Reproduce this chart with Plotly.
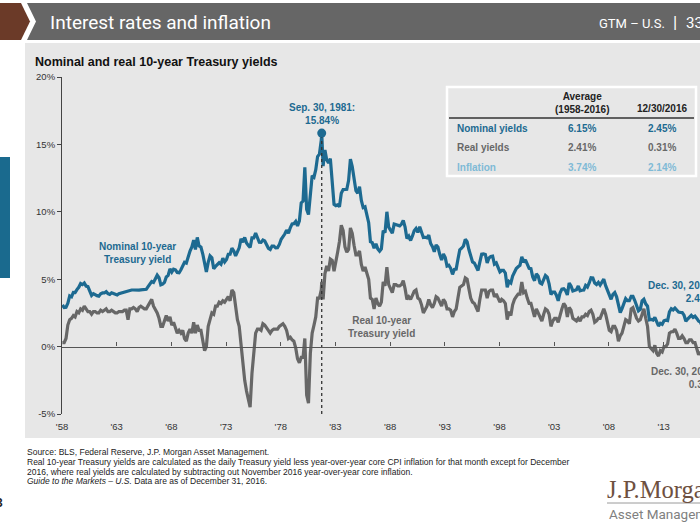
import plotly.graph_objects as go

# ---------------- data ----------------
years = list(range(1958, 2017))
months = [1, 3, 5, 7, 9, 11]

nominal_yield = [
    3.09, 2.90, 2.92, 3.21, 3.76, 3.69,   # 1958
    4.02, 4.01, 4.23, 4.40, 4.68, 4.60,   # 1959
    4.72, 4.49, 4.45, 4.13, 3.80, 3.93,   # 1960
    3.84, 3.78, 3.74, 3.92, 3.98, 3.98,   # 1961
    4.08, 3.93, 3.87, 3.99, 3.94, 3.87,   # 1962
    3.83, 3.93, 3.97, 4.02, 4.08, 4.12,   # 1963
    4.17, 4.22, 4.20, 4.20, 4.19, 4.15,   # 1964
    4.19, 4.21, 4.21, 4.20, 4.25, 4.45,   # 1965
    4.61, 4.83, 4.76, 5.02, 5.30, 5.11,   # 1966
    4.58, 4.63, 4.76, 5.16, 5.28, 5.77,   # 1967
    5.53, 5.74, 5.70, 5.50, 5.48, 5.70,   # 1968
    6.04, 6.26, 6.20, 6.72, 7.09, 7.40,   # 1969
    7.90, 7.21, 8.10, 7.46, 7.39, 6.87,   # 1970
    6.24, 5.53, 6.25, 6.73, 6.59, 5.78,   # 1971
    5.95, 6.12, 6.22, 6.11, 6.55, 6.28,   # 1972
    6.46, 6.85, 6.85, 7.30, 7.09, 6.73,   # 1973
    6.99, 7.33, 7.99, 7.75, 8.10, 7.68,   # 1974
    7.50, 7.35, 8.06, 8.06, 8.43, 8.05,   # 1975
    7.74, 7.73, 7.90, 7.83, 7.59, 7.29,   # 1976
    7.21, 7.46, 7.46, 7.33, 7.34, 7.58,   # 1977
    7.96, 8.11, 8.35, 8.64, 8.42, 8.81,   # 1978
    9.10, 9.12, 9.29, 8.95, 9.33, 10.65,  # 1979
    10.80, 13.30, 10.18, 9.80, 11.51, 12.68,  # 1980
    12.57, 13.12, 14.10, 14.28, 15.32, 13.39,  # 1981
    14.59, 13.86, 13.62, 13.95, 12.34, 10.55,  # 1982
    10.46, 10.51, 10.38, 11.38, 11.65, 11.69,  # 1983
    11.67, 12.32, 13.90, 13.36, 12.52, 11.57,  # 1984
    11.38, 11.86, 10.85, 10.31, 10.37, 9.78,   # 1985
    9.19, 7.78, 7.71, 7.30, 7.62, 7.25,   # 1986
    7.08, 7.25, 8.61, 8.45, 10.00, 8.86,  # 1987
    8.67, 8.42, 9.09, 9.06, 8.98, 8.96,   # 1988
    9.09, 9.36, 8.86, 8.02, 8.19, 7.87,   # 1989
    8.21, 8.59, 8.76, 8.47, 8.89, 8.39,   # 1990
    8.09, 8.11, 8.07, 8.27, 7.65, 7.42,   # 1991
    7.03, 7.54, 7.39, 6.84, 6.42, 6.87,   # 1992
    6.60, 5.98, 6.04, 5.81, 5.36, 5.72,   # 1993
    5.75, 6.48, 7.18, 7.30, 7.46, 7.96,   # 1994
    7.78, 7.20, 6.63, 6.28, 6.20, 5.93,   # 1995
    5.65, 6.27, 6.85, 6.87, 6.83, 6.20,   # 1996
    6.58, 6.69, 6.71, 6.12, 6.21, 5.88,   # 1997
    5.54, 5.65, 5.65, 5.46, 4.40, 4.83,   # 1998
    4.72, 5.23, 5.54, 5.79, 5.92, 6.03,   # 1999
    6.66, 6.26, 6.44, 6.05, 5.80, 5.78,   # 2000
    5.16, 4.89, 5.39, 5.24, 4.73, 4.65,   # 2001
    5.04, 5.28, 5.16, 4.65, 3.87, 4.05,   # 2002
    4.05, 3.81, 3.40, 3.98, 4.27, 4.30,   # 2003
    4.15, 3.83, 4.72, 4.50, 4.13, 4.19,   # 2004
    4.22, 4.50, 4.14, 4.18, 4.20, 4.54,   # 2005
    4.42, 4.72, 5.11, 5.09, 4.72, 4.60,   # 2006
    4.76, 4.56, 4.75, 5.00, 4.52, 4.15,   # 2007
    3.74, 3.51, 3.88, 4.01, 3.69, 3.00,   # 2008
    2.52, 2.82, 3.29, 3.56, 3.40, 3.40,   # 2009
    3.73, 3.73, 3.42, 3.01, 2.65, 2.76,   # 2010
    3.39, 3.51, 3.17, 3.00, 1.98, 2.01,   # 2011
    1.97, 2.17, 1.80, 1.53, 1.72, 1.65,   # 2012
    1.91, 1.96, 1.93, 2.58, 2.81, 2.72,   # 2013
    2.86, 2.72, 2.56, 2.54, 2.53, 2.33,   # 2014
    1.88, 2.04, 2.20, 2.32, 2.17, 2.26,   # 2015
    2.09, 1.89, 1.81, 1.50, 1.63, 2.14,   # 2016
]

real_yield = [
    0.3, 0.3, 0.6, 1.6, 2.0, 2.1,   # 1958
    2.3, 2.2, 2.6, 2.5, 2.8, 2.7,   # 1959
    3.0, 2.8, 2.6, 2.6, 2.4, 2.6,   # 1960
    2.6, 2.5, 2.5, 2.7, 2.6, 2.7,   # 1961
    2.8, 2.6, 2.6, 2.7, 2.6, 2.5,   # 1962
    2.5, 2.6, 2.6, 2.6, 2.7, 2.7,   # 1963
    2.0, 2.8, 2.8, 2.9, 2.8, 2.6,   # 1964
    2.9, 3.0, 2.9, 2.8, 2.8, 3.0,   # 1965
    3.2, 3.5, 3.0, 2.8, 2.5, 2.1,   # 1966
    1.5, 1.5, 1.9, 2.3, 1.9, 2.2,   # 1967
    1.6, 1.8, 1.4, 1.0, 1.2, 1.0,   # 1968
    1.2, 0.6, 0.4, 1.0, 1.3, 1.0,   # 1969
    1.8, 1.0, 1.6, 1.2, 1.2, 0.3,   # 1970
    -0.3, 0.0, 1.5, 2.0, 2.5, 2.4,  # 1971
    3.0, 3.0, 3.3, 3.2, 3.4, 3.3,   # 1972
    3.5, 3.7, 3.4, 4.2, 4.0, 2.8,   # 1973
    2.0, 1.5, 0.0, -1.5, -2.5, -3.3,  # 1974
    -3.8, -4.5, -2.0, -0.5, 1.0, 1.3,  # 1975
    1.3, 1.2, 1.7, 1.6, 1.4, 1.3,   # 1976
    1.0, 1.2, 1.3, 1.3, 1.3, 1.5,   # 1977
    1.6, 1.7, 1.5, 1.2, 0.6, 0.7,   # 1978
    0.5, 0.4, -0.1, -0.9, -1.2, -0.8,  # 1979
    -0.8, 0.6, -3.6, -4.2, -0.5, 1.0,  # 1980
    1.6, 2.2, 3.6, 3.6, 4.2, 3.5,   # 1981
    5.4, 6.0, 5.6, 6.5, 6.4, 5.6,   # 1982
    6.5, 7.0, 7.8, 9.0, 8.6, 7.4,   # 1983
    7.0, 7.2, 8.8, 8.4, 7.5, 6.8,   # 1984
    6.8, 7.1, 6.1, 5.6, 5.9, 5.5,   # 1985
    5.0, 3.6, 3.5, 2.8, 3.6, 3.2,   # 1986
    3.0, 3.3, 4.8, 4.5, 5.9, 4.6,   # 1987
    4.3, 4.0, 4.6, 4.6, 4.5, 4.5,   # 1988
    4.6, 4.9, 4.3, 3.5, 3.7, 3.5,   # 1989
    3.8, 4.1, 4.2, 3.6, 3.5, 3.1,   # 1990
    2.5, 2.8, 3.0, 3.5, 3.1, 2.9,   # 1991
    3.2, 3.7, 3.6, 3.3, 3.0, 3.5,   # 1992
    3.3, 2.8, 2.8, 2.7, 2.2, 2.6,   # 1993
    2.8, 3.6, 4.4, 4.5, 4.6, 5.1,   # 1994
    5.0, 4.3, 3.6, 3.3, 3.2, 2.9,   # 1995
    2.6, 3.5, 4.2, 4.2, 4.2, 3.6,   # 1996
    4.1, 4.2, 4.2, 3.7, 3.9, 3.6,   # 1997
    3.3, 3.5, 3.4, 3.2, 2.0, 2.6,   # 1998
    2.3, 3.1, 3.5, 3.7, 3.9, 3.9,   # 1999
    4.8, 4.0, 4.1, 3.6, 3.2, 3.2,   # 2000
    2.6, 2.2, 2.8, 2.5, 2.1, 1.9,   # 2001
    2.4, 2.8, 2.7, 2.4, 1.5, 1.9,   # 2002
    2.1, 2.1, 1.8, 2.4, 2.8, 3.2,   # 2003
    3.0, 2.2, 2.9, 2.7, 2.1, 2.0,   # 2004
    1.9, 2.1, 1.9, 2.2, 2.2, 2.4,   # 2005
    2.3, 2.6, 2.7, 2.4, 1.8, 1.9,   # 2006
    2.1, 2.1, 2.5, 2.8, 2.4, 1.9,   # 2007
    1.2, 1.1, 1.5, 1.5, 1.2, 0.4,   # 2008
    0.8, 1.0, 1.5, 2.0, 1.9, 1.7,   # 2009
    2.8, 2.9, 2.5, 2.1, 1.9, 2.0,   # 2010
    2.4, 2.8, 2.1, 1.5, 0.0, -0.2,  # 2011
    -0.3, 0.1, -0.5, -0.7, -0.3, -0.4,  # 2012
    0.0, 0.0, 0.2, 1.0, 1.1, 1.1,   # 2013
    1.3, 1.0, 0.6, 0.6, 0.8, 0.6,   # 2014
    0.3, 0.3, 0.5, 0.5, 0.3, 0.3,   # 2015
    -0.2, -0.6, -0.4, -0.7, -0.6, -0.1,  # 2016
]

peak_date, peak_nominal, peak_real = "1981-09-30", 15.84, 4.8
last_date, last_nominal, last_real = "2016-12-30", 2.45, 0.31

x_tick_years = [1958, 1963, 1968, 1973, 1978, 1983, 1988, 1993, 1998, 2003, 2008, 2013]
x_tick_text = ["'58", "'63", "'68", "'73", "'78", "'83", "'88", "'93", "'98", "'03", "'08", "'13"]
y_ticks = [-5, 0, 5, 10, 15, 20]
y_tick_text = ["-5%", "0%", "5%", "10%", "15%", "20%"]
y_range = [-5, 20]
x_range = ["1958-01-01", "2016-05-01"]

table_rows = ["Nominal yields", "Real yields", "Inflation"]
table_avg = ["6.15%", "2.41%", "3.74%"]
table_last = ["2.45%", "0.31%", "2.14%"]

footnotes = [
    "Source: BLS, Federal Reserve, J.P. Morgan Asset Management.",
    "Real 10-year Treasury yields are calculated as the daily Treasury yield less year-over-year core CPI inflation for that month except for December",
    "2016, where real yields are calculated by subtracting out November 2016 year-over-year core inflation.",
    "<i>Guide to the Markets – U.S.</i> Data are as of December 31, 2016.",
]

# ---------------- build series ----------------
dates = [f"{y}-{m:02d}-15" for y in years for m in months]
pts = list(zip(dates, nominal_yield, real_yield))
pts.append((peak_date, peak_nominal, peak_real))
pts.append((last_date, last_nominal, last_real))
pts.sort(key=lambda p: p[0])
xs = [p[0] for p in pts]
nom = [p[1] for p in pts]
real = [p[2] for p in pts]

BLUE = "#1d6a91"
GREY = "#676767"
LIGHTBLUE = "#7fbad6"
PANEL = "#e7e7e7"
FONT = "Liberation Sans, Arial, sans-serif"

W, H = 700, 525
L, R, T, B = 62, 0, 77, 111
PW, PH = W - L - R, H - T - B


def px(x):
    return (x - L) / PW


def py(y):
    return (H - B - y) / PH


fig = go.Figure()
fig.add_trace(go.Scatter(x=xs, y=real, mode="lines",
                         line=dict(color=GREY, width=3.2), hoverinfo="skip"))
fig.add_trace(go.Scatter(x=xs, y=nom, mode="lines",
                         line=dict(color=BLUE, width=3.2), hoverinfo="skip"))
fig.add_trace(go.Scatter(x=[peak_date, peak_date], y=[y_range[0], peak_nominal], mode="lines",
                         line=dict(color="#333333", width=1.3, dash="dot"), hoverinfo="skip"))
fig.add_trace(go.Scatter(x=[peak_date], y=[peak_nominal], mode="markers",
                         marker=dict(color=BLUE, size=9), hoverinfo="skip"))

tickvals = [f"{y}-01-01" for y in x_tick_years]

shapes = [
    # panel background
    dict(type="rect", xref="paper", yref="paper", x0=px(25), x1=px(700), y0=py(438), y1=py(43),
         fillcolor=PANEL, line=dict(width=0), layer="below"),
    # header band (with notch)
    dict(type="path", xref="paper", yref="paper",
         path=f"M {px(27)} {py(3)} L {px(700)} {py(3)} L {px(700)} {py(40)} L {px(27)} {py(40)} L {px(36)} {py(21.5)} Z",
         fillcolor="#666666", line=dict(width=0), layer="below"),
    # brown chevron
    dict(type="path", xref="paper", yref="paper",
         path=f"M {px(0)} {py(3)} L {px(21)} {py(3)} L {px(30)} {py(21.5)} L {px(21)} {py(40)} L {px(0)} {py(40)} Z",
         fillcolor="#6b3a28", line=dict(width=0), layer="below"),
    # blue side tab
    dict(type="rect", xref="paper", yref="paper", x0=px(0), x1=px(10), y0=py(278), y1=py(157),
         fillcolor="#1a6a8e", line=dict(width=0), layer="below"),
    # table box
    dict(type="rect", xref="paper", yref="paper", x0=px(447), x1=px(696), y0=py(176), y1=py(87),
         fillcolor="rgba(0,0,0,0)", line=dict(color="white", width=2.5)),
    dict(type="line", xref="paper", yref="paper", x0=px(449), x1=px(694), y0=py(118), y1=py(118),
         line=dict(color="#333333", width=1.5)),
    # logo underline
    dict(type="line", xref="paper", yref="paper", x0=px(607), x1=px(700), y0=py(503), y1=py(503),
         line=dict(color="#9a9a9a", width=1)),
]

ann = []


def text(x, y, s, size=10, color="#222", xanchor="left", align="left", yanchor="middle", family=FONT):
    ann.append(dict(xref="paper", yref="paper", x=px(x), y=py(y), text=s, showarrow=False,
                    xanchor=xanchor, yanchor=yanchor, align=align,
                    font=dict(size=size, color=color, family=family)))


HEADFONT = "Roboto, Liberation Sans, sans-serif"
# header
text(48, 22, "Interest rates and inflation", size=19, color="white", family=HEADFONT)
text(597, 23, "GTM – U.S.", size=13, color="white", family=HEADFONT)
text(671, 22, "|", size=17, color="white", family=HEADFONT)
text(684, 23, "33", size=15, color="white", family=HEADFONT)
# chart title
text(33, 62, "<b>Nominal and real 10-year Treasury yields</b>", size=12.5, color="#111")
# series labels
text(137, 253, "<b>Nominal 10-year<br>Treasury yield</b>", size=10, color=BLUE, xanchor="center", align="center")
text(381, 327, "<b>Real 10-year<br>Treasury yield</b>", size=10, color=GREY, xanchor="center", align="center")
# peak label tied to data
ann.append(dict(x=peak_date, y=peak_nominal, xref="x", yref="y", showarrow=False,
                text=f"<b>Sep. 30, 1981:<br>{peak_nominal:.2f}%</b>", yanchor="bottom", yshift=5,
                align="center", font=dict(size=10, color=BLUE, family=FONT)))
# end labels
text(716, 292, f"<b>Dec. 30, 2016:<br>{last_nominal:.2f}%</b>", size=10, color=BLUE, xanchor="right", align="right")
text(719, 378, f"<b>Dec. 30, 2016:<br>{last_real:.2f}%</b>", size=10, color=GREY, xanchor="right", align="right")
# table
text(582, 103, "<b>Average<br>(1958-2016)</b>", size=10, color="#222", xanchor="center", align="center")
text(662, 109, "<b>12/30/2016</b>", size=10, color="#222", xanchor="center", align="center")
row_colors = [BLUE, GREY, LIGHTBLUE]
row_y = [128, 147, 167]
for name, a, l, c, yy in zip(table_rows, table_avg, table_last, row_colors, row_y):
    text(455, yy, f"<b>{name}</b>", size=10, color=c)
    text(582, yy, f"<b>{a}</b>", size=10, color=c, xanchor="center", align="center")
    text(662, yy, f"<b>{l}</b>", size=10, color=c, xanchor="center", align="center")
# footnotes
for line, yy in zip(footnotes, [452, 462, 471.5, 481]):
    text(25, yy, line, size=8.5, color="#222")
# logo
text(605, 489, "J.P.Morgan", size=24.5, color="#6e5040", family="Liberation Serif, serif")
text(607, 514, "Asset Management", size=13.5, color="#808080", family=HEADFONT)
# page number fragment
text(5, 503, "<b>3</b>", size=12, color="#222", xanchor="right")

fig.update_layout(
    width=W, height=H,
    margin=dict(l=L, r=R, t=T, b=B, autoexpand=False),
    paper_bgcolor="white", plot_bgcolor="rgba(0,0,0,0)",
    showlegend=False,
    font=dict(family=FONT, size=9.5, color="#333"),
    shapes=shapes, annotations=ann,
    xaxis=dict(type="date", range=x_range, tickvals=tickvals, ticktext=x_tick_text,
               showgrid=False, zeroline=False, showline=False,
               ticks="outside", ticklen=4, tickcolor="rgba(0,0,0,0)",
               tickfont=dict(size=9.5, color="#333")),
    xaxis2=dict(type="date", range=x_range, tickvals=tickvals, overlaying="x", anchor="free",
                position=(0 - y_range[0]) / (y_range[1] - y_range[0]),
                showline=True, linecolor="#555", linewidth=1.3,
                ticks="inside", ticklen=4, tickcolor="#555", showticklabels=False, showgrid=False,
                zeroline=False),
    yaxis=dict(range=y_range, tickvals=y_ticks, ticktext=y_tick_text, showgrid=False,
               zeroline=False, showline=True, linecolor="#444", linewidth=1,
               ticks="outside", ticklen=4, tickcolor="#444",
               tickfont=dict(size=9.5, color="#333")),
)
# attach an invisible trace to xaxis2 so it is rendered
fig.add_trace(go.Scatter(x=[x_range[0]], y=[0], xaxis="x2", mode="markers",
                         marker=dict(opacity=0), hoverinfo="skip"))

fig.write_html("out.html", config={"displayModeBar": False},
               post_script="document.body.style.margin='0';document.body.style.overflow='hidden';")
